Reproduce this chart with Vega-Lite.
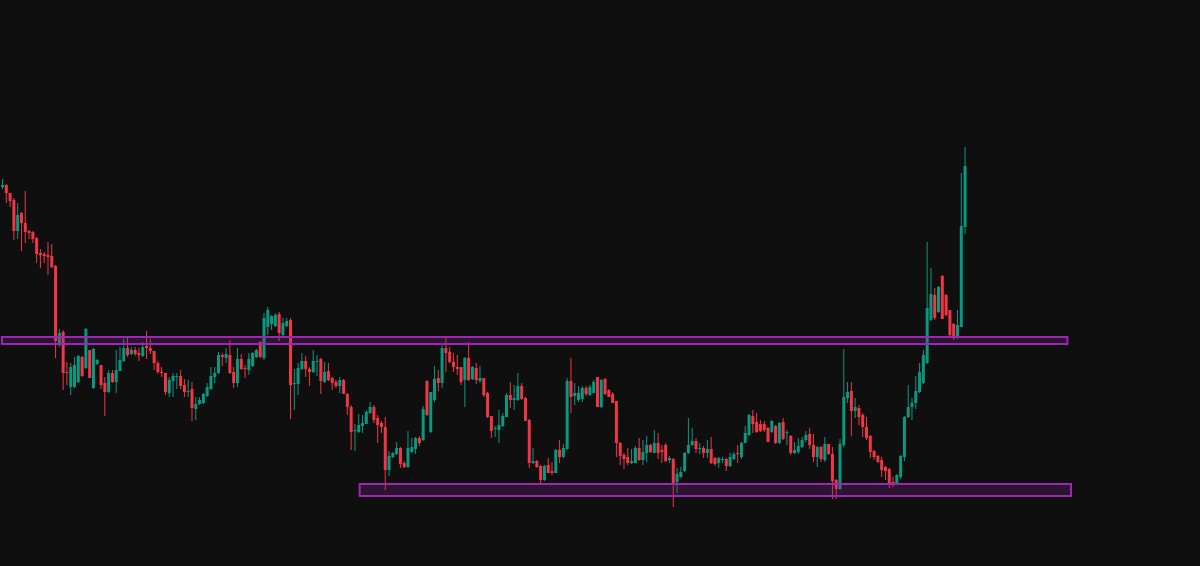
{
"$schema": "https://vega.github.io/schema/vega-lite/v6.json",
"width": 1200, "height": 566,
"autosize": {"type": "fit", "contains": "padding"},
"padding": 0,
"background": "#0f0f0f",
"config": {"view": {"stroke": null}},
"datasets": {
"candles": [
{"i":0,"o":379,"c":381,"h":387,"l":377},{"i":1,"o":381,"c":373,"h":382,"l":363},{"i":2,"o":373,"c":365,"h":373,"l":359},{"i":3,"o":366,"c":335,"h":368,"l":326},{"i":4,"o":335,"c":351,"h":363,"l":327},{"i":5,"o":353,"c":343,"h":354,"l":315},{"i":6,"o":343,"c":334,"h":375,"l":323},{"i":7,"o":335,"c":333,"h":336,"l":327},{"i":8,"o":334,"c":327,"h":335,"l":323},{"i":9,"o":328,"c":312,"h":329,"l":303},
{"i":10,"o":313,"c":311,"h":317,"l":298},{"i":11,"o":312,"c":310,"h":314,"l":303},{"i":12,"o":311,"c":309,"h":324,"l":291},{"i":13,"o":310,"c":299,"h":322,"l":298},{"i":14,"o":300,"c":225,"h":301,"l":208},{"i":15,"o":223,"c":233,"h":237,"l":219},{"i":16,"o":234,"c":193,"h":236,"l":176},{"i":17,"o":194,"c":193,"h":204,"l":181},{"i":18,"o":179,"c":199,"h":203,"l":171},{"i":19,"o":179,"c":201,"h":209,"l":178},
{"i":20,"o":184,"c":210,"h":211,"l":183},{"i":21,"o":209,"c":190,"h":210,"l":189},{"i":22,"o":198,"c":237,"h":238,"l":197},{"i":23,"o":216,"c":188,"h":216,"l":188},{"i":24,"o":178,"c":217,"h":218,"l":177},{"i":25,"o":202,"c":206,"h":207,"l":201},{"i":26,"o":201,"c":181,"h":201,"l":177},{"i":27,"o":183,"c":174,"h":189,"l":150},{"i":28,"o":174,"c":193,"h":196,"l":173},{"i":29,"o":193,"c":184,"h":196,"l":183},
{"i":30,"o":184,"c":196,"h":216,"l":173},{"i":31,"o":195,"c":206,"h":219,"l":195},{"i":32,"o":205,"c":218,"h":227,"l":204},{"i":33,"o":218,"c":211,"h":228,"l":209},{"i":34,"o":212,"c":216,"h":219,"l":211},{"i":35,"o":216,"c":212,"h":219,"l":210},{"i":36,"o":213,"c":211,"h":218,"l":205},{"i":37,"o":210,"c":219,"h":224,"l":209},{"i":38,"o":220,"c":218,"h":235,"l":207},{"i":39,"o":218,"c":215,"h":227,"l":212},
{"i":40,"o":215,"c":203,"h":215,"l":196},{"i":41,"o":203,"c":194,"h":205,"l":192},{"i":42,"o":194,"c":193,"h":199,"l":189},{"i":43,"o":193,"c":174,"h":193,"l":171},{"i":44,"o":173,"c":186,"h":189,"l":169},{"i":45,"o":185,"c":190,"h":193,"l":169},{"i":46,"o":189,"c":190,"h":193,"l":177},{"i":47,"o":190,"c":180,"h":196,"l":177},{"i":48,"o":181,"c":174,"h":187,"l":169},{"i":49,"o":174,"c":175,"h":186,"l":169},
{"i":50,"o":177,"c":158,"h":184,"l":145},{"i":51,"o":157,"c":162,"h":169,"l":146},{"i":52,"o":162,"c":166,"h":169,"l":161},{"i":53,"o":163,"c":172,"h":173,"l":162},{"i":54,"o":170,"c":179,"h":183,"l":169},{"i":55,"o":177,"c":190,"h":199,"l":176},{"i":56,"o":189,"c":193,"h":199,"l":183},{"i":57,"o":193,"c":211,"h":214,"l":192},{"i":58,"o":211,"c":209,"h":213,"l":200},{"i":59,"o":208,"c":212,"h":218,"l":203},
{"i":60,"o":211,"c":193,"h":226,"l":192},{"i":61,"o":194,"c":183,"h":199,"l":178},{"i":62,"o":183,"c":207,"h":218,"l":179},{"i":63,"o":207,"c":197,"h":212,"l":196},{"i":64,"o":198,"c":197,"h":201,"l":188},{"i":65,"o":196,"c":207,"h":213,"l":191},{"i":66,"o":200,"c":213,"h":214,"l":199},{"i":67,"o":209,"c":216,"h":217,"l":208},{"i":68,"o":224,"c":209,"h":225,"l":208},{"i":69,"o":208,"c":248,"h":253,"l":206},
{"i":70,"o":239,"c":256,"h":259,"l":231},{"i":71,"o":242,"c":250,"h":251,"l":236},{"i":72,"o":240,"c":251,"h":253,"l":239},{"i":73,"o":252,"c":233,"h":254,"l":225},{"i":74,"o":231,"c":243,"h":248,"l":229},{"i":75,"o":240,"c":245,"h":248,"l":239},{"i":76,"o":246,"c":181,"h":248,"l":147},{"i":77,"o":182,"c":183,"h":197,"l":156},{"i":78,"o":182,"c":198,"h":203,"l":171},{"i":79,"o":197,"c":205,"h":213,"l":196},
{"i":80,"o":205,"c":197,"h":210,"l":189},{"i":81,"o":197,"c":194,"h":199,"l":180},{"i":82,"o":194,"c":205,"h":216,"l":193},{"i":83,"o":204,"c":205,"h":211,"l":190},{"i":84,"o":207,"c":185,"h":208,"l":172},{"i":85,"o":184,"c":194,"h":204,"l":183},{"i":86,"o":195,"c":186,"h":203,"l":185},{"i":87,"o":188,"c":183,"h":189,"l":176},{"i":88,"o":184,"c":180,"h":186,"l":178},{"i":89,"o":180,"c":186,"h":189,"l":173},
{"i":90,"o":186,"c":172,"h":187,"l":172},{"i":91,"o":172,"c":159,"h":173,"l":151},{"i":92,"o":159,"c":134,"h":161,"l":116},{"i":93,"o":135,"c":136,"h":142,"l":115},{"i":94,"o":134,"c":141,"h":152,"l":133},{"i":95,"o":140,"c":143,"h":151,"l":133},{"i":96,"o":142,"c":154,"h":156,"l":142},{"i":97,"o":153,"c":159,"h":164,"l":152},{"i":98,"o":159,"c":146,"h":161,"l":143},{"i":99,"o":148,"c":141,"h":151,"l":123},
{"i":100,"o":143,"c":139,"h":145,"l":133},{"i":101,"o":139,"c":96,"h":149,"l":76},{"i":102,"o":96,"c":110,"h":115,"l":90},{"i":103,"o":109,"c":113,"h":114,"l":108},{"i":104,"o":112,"c":118,"h":124,"l":111},{"i":105,"o":118,"c":102,"h":119,"l":98},{"i":106,"o":103,"c":99,"h":105,"l":98},{"i":107,"o":99,"c":118,"h":135,"l":98},{"i":108,"o":114,"c":119,"h":128,"l":113},{"i":109,"o":117,"c":128,"h":129,"l":112},
{"i":110,"o":128,"c":123,"h":130,"l":120},{"i":111,"o":126,"c":157,"h":160,"l":125},{"i":112,"o":185,"c":151,"h":186,"l":150},{"i":113,"o":134,"c":174,"h":174,"l":133},{"i":114,"o":166,"c":187,"h":200,"l":164},{"i":115,"o":188,"c":183,"h":196,"l":175},{"i":116,"o":183,"c":218,"h":223,"l":178},{"i":117,"o":218,"c":213,"h":229,"l":194},{"i":118,"o":214,"c":204,"h":219,"l":203},{"i":119,"o":204,"c":199,"h":213,"l":194},
{"i":120,"o":199,"c":197,"h":211,"l":191},{"i":121,"o":199,"c":184,"h":199,"l":181},{"i":122,"o":186,"c":208,"h":209,"l":159},{"i":123,"o":208,"c":186,"h":224,"l":185},{"i":124,"o":187,"c":199,"h":200,"l":186},{"i":125,"o":198,"c":186,"h":203,"l":182},{"i":126,"o":185,"c":188,"h":200,"l":183},{"i":127,"o":188,"c":171,"h":188,"l":169},{"i":128,"o":173,"c":149,"h":174,"l":148},{"i":129,"o":150,"c":135,"h":150,"l":128},
{"i":130,"o":137,"c":138,"h":140,"l":129},{"i":131,"o":136,"c":141,"h":156,"l":123},{"i":132,"o":140,"c":150,"h":153,"l":139},{"i":133,"o":149,"c":171,"h":173,"l":149},{"i":134,"o":171,"c":166,"h":184,"l":158},{"i":135,"o":166,"c":168,"h":181,"l":156},{"i":136,"o":166,"c":180,"h":193,"l":165},{"i":137,"o":180,"c":167,"h":183,"l":166},{"i":138,"o":168,"c":145,"h":169,"l":145},{"i":139,"o":146,"c":103,"h":147,"l":98},
{"i":140,"o":103,"c":105,"h":118,"l":102},{"i":141,"o":105,"c":99,"h":106,"l":98},{"i":142,"o":100,"c":86,"h":101,"l":81},{"i":143,"o":86,"c":100,"h":101,"l":85},{"i":144,"o":101,"c":93,"h":108,"l":93},{"i":145,"o":95,"c":93,"h":104,"l":91},{"i":146,"o":93,"c":116,"h":117,"l":93},{"i":147,"o":116,"c":109,"h":126,"l":103},{"i":148,"o":109,"c":118,"h":122,"l":108},{"i":149,"o":117,"c":185,"h":188,"l":116},
{"i":150,"o":185,"c":169,"h":208,"l":153},{"i":151,"o":170,"c":173,"h":183,"l":161},{"i":152,"o":166,"c":173,"h":180,"l":164},{"i":153,"o":167,"c":178,"h":180,"l":164},{"i":154,"o":178,"c":172,"h":180,"l":170},{"i":155,"o":171,"c":179,"h":181,"l":170},{"i":156,"o":173,"c":184,"h":186,"l":173},{"i":157,"o":189,"c":159,"h":189,"l":159},{"i":158,"o":159,"c":186,"h":187,"l":158},{"i":159,"o":187,"c":172,"h":188,"l":171},
{"i":160,"o":176,"c":169,"h":177,"l":169},{"i":161,"o":172,"c":163,"h":174,"l":163},{"i":162,"o":165,"c":123,"h":165,"l":109},{"i":163,"o":123,"c":110,"h":124,"l":101},{"i":164,"o":111,"c":107,"h":113,"l":97},{"i":165,"o":109,"c":103,"h":118,"l":101},{"i":166,"o":103,"c":105,"h":117,"l":102},{"i":167,"o":103,"c":118,"h":120,"l":103},{"i":168,"o":118,"c":106,"h":128,"l":105},{"i":169,"o":106,"c":114,"h":126,"l":101},
{"i":170,"o":113,"c":121,"h":130,"l":104},{"i":171,"o":121,"c":114,"h":122,"l":113},{"i":172,"o":113,"c":123,"h":136,"l":113},{"i":173,"o":123,"c":113,"h":133,"l":107},{"i":174,"o":116,"c":114,"h":121,"l":103},{"i":175,"o":121,"c":105,"h":123,"l":104},{"i":176,"o":106,"c":108,"h":110,"l":103},{"i":177,"o":107,"c":83,"h":108,"l":59},{"i":178,"o":84,"c":92,"h":98,"l":73},{"i":179,"o":89,"c":94,"h":99,"l":88},
{"i":180,"o":95,"c":113,"h":114,"l":94},{"i":181,"o":113,"c":121,"h":148,"l":112},{"i":182,"o":121,"c":125,"h":138,"l":120},{"i":183,"o":125,"c":117,"h":128,"l":113},{"i":184,"o":117,"c":118,"h":123,"l":112},{"i":185,"o":118,"c":113,"h":120,"l":108},{"i":186,"o":113,"c":117,"h":126,"l":108},{"i":187,"o":117,"c":103,"h":129,"l":102},{"i":188,"o":108,"c":102,"h":109,"l":100},{"i":189,"o":103,"c":108,"h":109,"l":98},
{"i":190,"o":106,"c":107,"h":109,"l":103},{"i":191,"o":107,"c":100,"h":108,"l":95},{"i":192,"o":100,"c":109,"h":113,"l":99},{"i":193,"o":107,"c":112,"h":114,"l":106},{"i":194,"o":113,"c":112,"h":121,"l":103},{"i":195,"o":109,"c":123,"h":124,"l":107},{"i":196,"o":123,"c":133,"h":140,"l":123},{"i":197,"o":131,"c":151,"h":152,"l":130},{"i":198,"o":150,"c":142,"h":156,"l":133},{"i":199,"o":144,"c":134,"h":153,"l":133},
{"i":200,"o":142,"c":135,"h":146,"l":134},{"i":201,"o":142,"c":136,"h":145,"l":134},{"i":202,"o":138,"c":124,"h":139,"l":124},{"i":203,"o":134,"c":145,"h":146,"l":133},{"i":204,"o":140,"c":123,"h":141,"l":122},{"i":205,"o":123,"c":143,"h":144,"l":122},{"i":206,"o":144,"c":127,"h":148,"l":126},{"i":207,"o":133,"c":134,"h":136,"l":121},{"i":208,"o":130,"c":113,"h":131,"l":111},{"i":209,"o":113,"c":116,"h":124,"l":112},
{"i":210,"o":114,"c":120,"h":128,"l":112},{"i":211,"o":119,"c":126,"h":129,"l":118},{"i":212,"o":126,"c":131,"h":135,"l":124},{"i":213,"o":132,"c":121,"h":138,"l":117},{"i":214,"o":121,"c":109,"h":132,"l":104},{"i":215,"o":109,"c":119,"h":120,"l":99},{"i":216,"o":119,"c":107,"h":120,"l":104},{"i":217,"o":106,"c":122,"h":129,"l":104},{"i":218,"o":122,"c":112,"h":122,"l":111},{"i":219,"o":112,"c":85,"h":119,"l":67},
{"i":220,"o":86,"c":77,"h":87,"l":67},{"i":221,"o":77,"c":122,"h":127,"l":76},{"i":222,"o":121,"c":169,"h":217,"l":119},{"i":223,"o":168,"c":174,"h":184,"l":163},{"i":224,"o":175,"c":155,"h":184,"l":130},{"i":225,"o":155,"c":159,"h":168,"l":148},{"i":226,"o":158,"c":149,"h":161,"l":141},{"i":227,"o":151,"c":139,"h":153,"l":129},{"i":228,"o":139,"c":128,"h":149,"l":126},{"i":229,"o":130,"c":114,"h":131,"l":108},
{"i":230,"o":115,"c":109,"h":116,"l":106},{"i":231,"o":110,"c":104,"h":111,"l":103},{"i":232,"o":106,"c":96,"h":109,"l":89},{"i":233,"o":99,"c":95,"h":100,"l":86},{"i":234,"o":97,"c":82,"h":98,"l":78},{"i":235,"o":84,"c":81,"h":89,"l":79},{"i":236,"o":81,"c":91,"h":92,"l":81},{"i":237,"o":89,"c":110,"h":111,"l":87},{"i":238,"o":109,"c":149,"h":150,"l":105},{"i":239,"o":149,"c":159,"h":181,"l":148},
{"i":240,"o":159,"c":163,"h":168,"l":146},{"i":241,"o":163,"c":175,"h":190,"l":157},{"i":242,"o":174,"c":194,"h":203,"l":173},{"i":243,"o":183,"c":211,"h":216,"l":182},{"i":244,"o":203,"c":258,"h":324,"l":202},{"i":245,"o":246,"c":272,"h":298,"l":245},{"i":246,"o":271,"c":248,"h":278,"l":246},{"i":247,"o":254,"c":279,"h":280,"l":253},{"i":248,"o":290,"c":247,"h":291,"l":247},{"i":249,"o":271,"c":251,"h":272,"l":250},
{"i":250,"o":256,"c":231,"h":256,"l":229},{"i":251,"o":242,"c":229,"h":243,"l":226},{"i":252,"o":229,"c":241,"h":256,"l":227},{"i":253,"o":239,"c":340,"h":393,"l":239},{"i":254,"o":339,"c":400,"h":419,"l":332}
],
"zones": [
{"x0": -0.15, "x1": 281.0, "p0": 229, "p1": 222},
{"x0": 94.25, "x1": 281.96, "p0": 82, "p1": 70}
]
},
"layer": [
{
"data": {"name": "candles"},
"mark": {"type": "rule", "strokeWidth": 1},
"encoding": {
"x": {"field": "i", "type": "quantitative", "scale": {"domain": [-0.4, 316.0], "nice": false, "zero": false, "padding": 0}, "axis": null},
"y": {"field": "l", "type": "quantitative", "scale": {"domain": [0, 566], "nice": false, "zero": false, "padding": 0}, "axis": null},
"y2": {"field": "h"},
"color": {"condition": {"test": "datum.c >= datum.o", "value": "#089981"}, "value": "#f23645"}
}
},
{
"data": {"name": "candles"},
"mark": {"type": "bar", "width": 3},
"encoding": {
"x": {"field": "i", "type": "quantitative", "scale": {"domain": [-0.4, 316.0], "nice": false, "zero": false, "padding": 0}, "axis": null},
"y": {"field": "o", "type": "quantitative", "scale": {"domain": [0, 566], "nice": false, "zero": false, "padding": 0}, "axis": null},
"y2": {"field": "c"},
"color": {"condition": {"test": "datum.c >= datum.o", "value": "#089981"}, "value": "#f23645"}
}
},
{
"data": {"name": "zones"},
"mark": {"type": "rect", "fill": "#9c27b0", "fillOpacity": 0.2, "stroke": "#9c27b0", "strokeWidth": 2},
"encoding": {
"x": {"field": "x0", "type": "quantitative", "scale": {"domain": [-0.4, 316.0], "nice": false, "zero": false, "padding": 0}, "axis": null},
"x2": {"field": "x1"},
"y": {"field": "p0", "type": "quantitative", "scale": {"domain": [0, 566], "nice": false, "zero": false, "padding": 0}, "axis": null},
"y2": {"field": "p1"}
}
}
]
}
